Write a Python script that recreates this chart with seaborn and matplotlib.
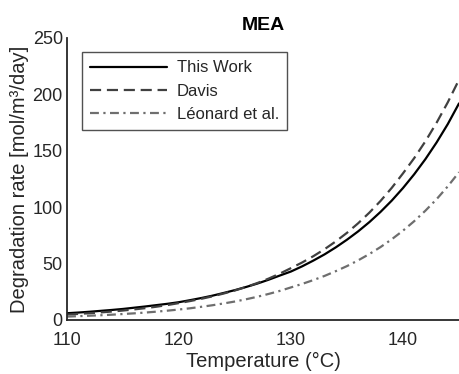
import matplotlib
matplotlib.use("Agg")
import matplotlib.pyplot as plt
import seaborn as sns
import pandas as pd

# Temperature grid (°C), one point per degree
temperature = list(range(110, 146))

# Degradation rates (mol/m³/day)
this_work = [6.0, 6.6, 7.3, 8.1, 8.9, 9.8, 10.9, 12.0, 13.2, 14.4,
             15.8, 17.6, 19.5, 21.6, 24.0, 26.5, 29.3, 32.3, 35.7, 39.4,
             43.0, 47.6, 52.7, 58.2, 64.4, 71.2, 78.6, 86.8, 95.9, 105.9,
             117.0, 129.2, 142.6, 157.4, 173.7, 192.0]
davis = [4.8, 5.4, 6.0, 6.7, 7.5, 8.4, 9.4, 10.5, 11.8, 13.3,
         15.0, 16.8, 18.8, 21.0, 23.5, 26.2, 29.3, 32.8, 36.7, 41.1,
         46.0, 51.0, 56.6, 62.8, 69.7, 77.3, 85.8, 95.2, 105.6, 117.2,
         130.0, 143.5, 158.4, 174.9, 193.0, 213.0]
leonard = [3.0, 3.4, 3.8, 4.2, 4.7, 5.3, 5.9, 6.6, 7.4, 8.3,
           9.3, 10.4, 11.7, 13.1, 14.7, 16.4, 18.4, 20.6, 23.1, 25.8,
           28.9, 32.0, 35.4, 39.1, 43.3, 47.8, 52.9, 58.5, 64.7, 71.6,
           79.2, 87.6, 96.9, 107.1, 118.5, 131.0]

series_names = ["This Work", "Davis", "Léonard et al."]
x_ticks = [110, 120, 130, 140]
y_ticks = [0, 50, 100, 150, 200, 250]

sns.set_theme(style="white")
plt.rcParams["font.family"] = ["Liberation Sans", "DejaVu Sans"]
text_color = "#262626"

n = len(temperature)
df = pd.DataFrame({
    "Temperature": temperature * 3,
    "Rate": this_work + davis + leonard,
    "Source": [series_names[0]] * n + [series_names[1]] * n + [series_names[2]] * n,
})

fig = plt.figure(figsize=(4.59, 3.74), dpi=100)
ax = fig.add_axes([0.146, 0.1444, 0.854, 0.754])

styles = {
    "This Work": dict(color="black", linestyle="-"),
    "Davis": dict(color="#404040", linestyle=(0, (5, 2.6))),
    "Léonard et al.": dict(color="#6e6e6e", linestyle=(0, (4, 2, 1, 2))),
}

for name in series_names:
    sub = df[df["Source"] == name]
    sns.lineplot(data=sub, x="Temperature", y="Rate", ax=ax, label=name,
                 linewidth=1.6, **styles[name])

ax.set_xlim(110, 145)
ax.set_ylim(0, 250)
ax.set_xticks(x_ticks)
ax.set_yticks(y_ticks)
ax.tick_params(direction="in", length=4, width=1.0, colors=text_color,
               labelsize=13)
ax.tick_params(axis="x", pad=9)
ax.tick_params(axis="y", pad=3)
for side in ("top", "right"):
    ax.spines[side].set_visible(False)
for side in ("left", "bottom"):
    ax.spines[side].set_color(text_color)
    ax.spines[side].set_linewidth(1.3)

ax.set_xlabel("Temperature (°C)", fontsize=14.5, color=text_color)
ax.set_ylabel("Degradation rate [mol/m³/day]", fontsize=14.5, color=text_color)
ax.xaxis.set_label_coords(0.5, -0.115)
ax.yaxis.set_label_coords(-0.097, 0.5)
ax.set_title("MEA", fontsize=14, fontweight="bold", color="black", pad=6)

leg = ax.legend(loc="upper left", bbox_to_anchor=(0.038, 0.95), frameon=True,
                fancybox=False, edgecolor=text_color, fontsize=12,
                handlelength=4.6, handletextpad=0.6, labelspacing=0.5,
                borderpad=0.5, borderaxespad=0.0)
leg.get_frame().set_linewidth(1.0)
for t in leg.get_texts():
    t.set_color(text_color)

fig.savefig("out.png", dpi=100)
